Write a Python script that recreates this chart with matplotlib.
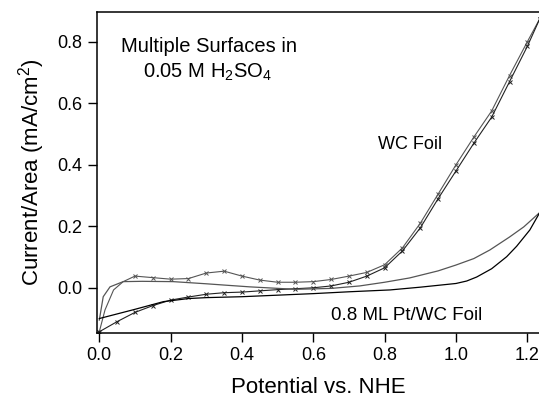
import matplotlib
matplotlib.use('Agg')
import matplotlib.pyplot as plt

plt.rcParams['font.family'] = ['Liberation Sans', 'DejaVu Sans']
plt.rcParams['mathtext.fontset'] = 'custom'
plt.rcParams['mathtext.rm'] = 'Liberation Sans'

# WC foil, anodic sweep (upper branch at low potential)
wc_fwd_v = [0.0, 0.016, 0.04, 0.067, 0.10, 0.15, 0.20, 0.25, 0.30, 0.35, 0.40,
            0.45, 0.50, 0.55, 0.60, 0.65, 0.70, 0.75, 0.80, 0.85, 0.90, 0.95,
            1.00, 1.05, 1.10, 1.15, 1.20, 1.235]
wc_fwd_i = [-0.143, -0.072, -0.007, 0.020, 0.038, 0.033, 0.028, 0.030, 0.048,
            0.054, 0.038, 0.025, 0.018, 0.018, 0.020, 0.027, 0.038, 0.050,
            0.075, 0.130, 0.210, 0.305, 0.400, 0.490, 0.575, 0.690, 0.800, 0.875]
# WC foil, cathodic sweep
wc_rev_v = [1.235, 1.20, 1.15, 1.10, 1.05, 1.00, 0.95, 0.90, 0.85, 0.80, 0.75,
            0.70, 0.65, 0.60, 0.55, 0.50, 0.45, 0.40, 0.35, 0.30, 0.25, 0.20,
            0.15, 0.10, 0.05, 0.0]
wc_rev_i = [0.875, 0.785, 0.670, 0.555, 0.470, 0.380, 0.290, 0.195, 0.120, 0.065,
            0.038, 0.018, 0.006, 0.000, -0.003, -0.006, -0.010, -0.014, -0.016,
            -0.021, -0.030, -0.040, -0.058, -0.080, -0.110, -0.143]

# 0.8 ML Pt/WC foil
pt_fwd_v = [0.0, 0.011, 0.03, 0.067, 0.12, 0.207, 0.30, 0.348, 0.422, 0.55,
            0.65, 0.73, 0.80, 0.87, 0.95, 1.00, 1.05, 1.095, 1.15, 1.19, 1.235]
pt_fwd_i = [-0.105, -0.029, 0.003, 0.020, 0.021, 0.020, 0.013, 0.009, 0.003,
            -0.005, -0.002, 0.006, 0.018, 0.032, 0.055, 0.074, 0.095, 0.123,
            0.165, 0.198, 0.245]
pt_rev_v = [1.235, 1.207, 1.17, 1.142, 1.10, 1.058, 1.03, 1.0, 0.9, 0.815, 0.7,
            0.6, 0.5, 0.4, 0.3, 0.25, 0.18, 0.1, 0.05, 0.0]
pt_rev_i = [0.245, 0.188, 0.135, 0.101, 0.062, 0.035, 0.022, 0.014, 0.002,
            -0.007, -0.013, -0.019, -0.024, -0.029, -0.032, -0.035, -0.045,
            -0.070, -0.085, -0.100]

fig = plt.figure(figsize=(5.39, 3.97), dpi=100)
ax = fig.add_axes([0.1794, 0.162, 0.8206, 0.808])

ax.plot(wc_fwd_v, wc_fwd_i, color='#555555', lw=0.8, marker='x', ms=3,
        mew=0.7, markevery=[0] + list(range(4, len(wc_fwd_v))))
ax.plot(wc_rev_v, wc_rev_i, color='#222222', lw=0.8, marker='x', ms=3,
        mew=0.7)
ax.plot(pt_fwd_v, pt_fwd_i, color='#555555', lw=0.9)
ax.plot(pt_rev_v, pt_rev_i, color='black', lw=0.9)

ax.set_xlim(-0.0073, 1.2327)
ax.set_ylim(-0.146, 0.897)
ax.set_xticks([0.0, 0.2, 0.4, 0.6, 0.8, 1.0, 1.2])
ax.set_yticks([0.0, 0.2, 0.4, 0.6, 0.8])
ax.xaxis.set_major_formatter(matplotlib.ticker.FormatStrFormatter('%.1f'))
ax.yaxis.set_major_formatter(matplotlib.ticker.FormatStrFormatter('%.1f'))
ax.tick_params(direction='out', length=6.5, width=1.0, labelsize=13, pad=4)
ax.spines['right'].set_visible(False)
for s in ['left', 'bottom', 'top']:
    ax.spines[s].set_linewidth(1.1)

ax.set_xlabel('Potential vs. NHE', fontsize=16, labelpad=9)
ax.set_ylabel('Current/Area (mA/cm$^2$)', fontsize=16, labelpad=7)

ax.text(0.3075, 0.786, 'Multiple Surfaces in', fontsize=14.5,
        ha='center', va='center')
ax.text(0.302, 0.701, '0.05 M H$_2$SO$_4$', fontsize=14.5,
        ha='center', va='center')
ax.text(0.871, 0.466, 'WC Foil', fontsize=13, ha='center', va='center')
ax.text(0.862, -0.089, '0.8 ML Pt/WC Foil', fontsize=13.5,
        ha='center', va='center')

fig.savefig('out.png', dpi=100)
